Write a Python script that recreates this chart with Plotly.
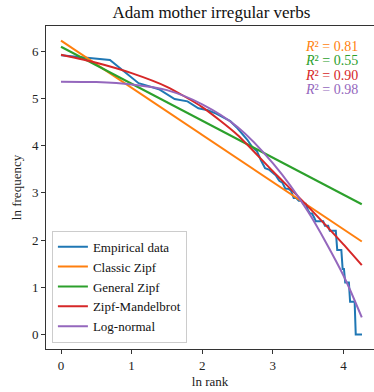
import numpy as np
import plotly.graph_objects as go

# ---- data ----
ranks = list(range(1, 72))
frequencies = [372, 337, 206, 181, 147, 140, 121, 116, 108, 99,
               92, 81, 70, 62, 53, 49, 40, 34, 33, 31,
               29, 26, 25, 22, 22, 21, 18, 18, 17, 17,
               16, 16, 14, 13, 13, 12, 11, 11, 11, 11,
               11, 10, 10, 10, 9, 9, 9, 9, 9, 6,
               6, 6, 6, 4, 4, 3, 3, 3, 3, 2,
               2, 2, 2, 2, 1, 1, 1, 1, 1, 1, 1]

line_x = [0.0, 4.26]
classic_zipf = [6.23, 1.97]
general_zipf = [6.10, 2.76]

curve_x = [0.0, 0.5, 1.0, 1.5, 2.0, 2.5, 3.0, 3.5, 4.0, 4.26]
zipf_mandelbrot = [5.93, 5.76, 5.54, 5.25, 4.82, 4.23, 3.46, 2.71, 1.91, 1.47]
log_normal = [5.36, 5.35, 5.30, 5.18, 4.88, 4.40, 3.63, 2.60, 1.25, 0.36]

r2_labels = ["0.81", "0.55", "0.90", "0.98"]
r2_colors = ["#ff7f0e", "#2ca02c", "#d62728", "#9467bd"]

FONT = "Liberation Serif"

ln_rank = np.log(np.array(ranks, dtype=float))
ln_freq = np.log(np.array(frequencies, dtype=float))

fig = go.Figure()
fig.add_trace(go.Scatter(x=ln_rank, y=ln_freq, mode="lines", name="Empirical data",
                         line=dict(color="#1f77b4", width=2)))
fig.add_trace(go.Scatter(x=line_x, y=classic_zipf, mode="lines", name="Classic Zipf",
                         line=dict(color="#ff7f0e", width=2)))
fig.add_trace(go.Scatter(x=line_x, y=general_zipf, mode="lines", name="General Zipf",
                         line=dict(color="#2ca02c", width=2)))
fig.add_trace(go.Scatter(x=curve_x, y=zipf_mandelbrot, mode="lines", name="Zipf-Mandelbrot",
                         line=dict(color="#d62728", width=2, shape="spline", smoothing=0.6)))
fig.add_trace(go.Scatter(x=curve_x, y=log_normal, mode="lines", name="Log-normal",
                         line=dict(color="#9467bd", width=2, shape="spline", smoothing=0.8)))

ann_y = [0.938, 0.892, 0.848, 0.803]
for lab, col, yy in zip(r2_labels, r2_colors, ann_y):
    fig.add_annotation(xref="paper", yref="paper", x=0.957, y=yy, xanchor="right", yanchor="middle",
                       text=f"<i>R</i>² = {lab}", showarrow=False,
                       font=dict(family=FONT, size=14, color=col))

axis_common = dict(showgrid=False, zeroline=False, ticks="outside", ticklen=4, tickwidth=1,
                   tickcolor="#333", linecolor="#333", linewidth=1, showline=True,
                   tickfont=dict(family=FONT, size=13, color="#222"))

fig.update_layout(
    width=374, height=392,
    margin=dict(l=46, r=0, t=26, b=43),
    paper_bgcolor="white", plot_bgcolor="white",
    title=dict(text="Adam mother irregular verbs", x=0.5655, xref="container", xanchor="center",
               y=0.969, yref="container", yanchor="middle",
               font=dict(family=FONT, size=17, color="#111")),
    xaxis=dict(range=[-0.2125, 4.433], tickvals=[0, 1, 2, 3, 4], mirror=True,
               title=dict(text="ln rank", font=dict(family=FONT, size=13, color="#222"), standoff=5),
               **axis_common),
    yaxis=dict(range=[-0.31, 6.54], tickvals=[0, 1, 2, 3, 4, 5, 6],
               title=dict(text="ln frequency", font=dict(family=FONT, size=13, color="#222"), standoff=7),
               **axis_common),
    legend=dict(x=0.018, y=0.0195, xanchor="left", yanchor="bottom",
                bgcolor="rgba(255,255,255,0.8)", bordercolor="#cccccc", borderwidth=1,
                font=dict(family=FONT, size=13, color="#111"), itemwidth=30,
                tracegroupgap=0),
    showlegend=True,
)

fig.write_html("out.html")
